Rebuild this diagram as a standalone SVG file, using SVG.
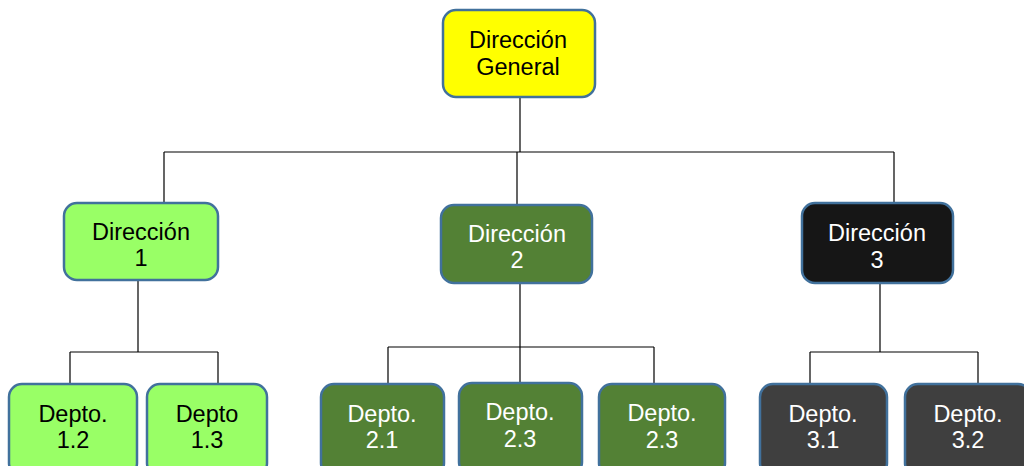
<svg xmlns="http://www.w3.org/2000/svg" width="1024" height="466" viewBox="0 0 1024 466">
  <style>
    .box { stroke: #41719C; stroke-width: 2.5; }
    .yellow { fill: #FFFF00; }
    .lime { fill: #99FF66; }
    .green { fill: #538135; }
    .black { fill: #161616; }
    .gray { fill: #3F3F3F; }
    .lbl { font-family: "Liberation Sans", Arial, sans-serif; font-size: 23.5px; text-anchor: middle; }
    .dark { fill: #000000; }
    .light { fill: #FFFFFF; }
    .wire { fill: none; stroke: #000000; stroke-width: 1.2; }
  </style>

  <g id="connectors">
    <!-- top level -->
    <path class="wire" d="M520 97 V152 M164 152 H894 M164 152 V203 M517 152 V205 M894 152 V203"/>
    <!-- branch 1 -->
    <path class="wire" d="M138 280 V352 M70 352 H218 M70 352 V384 M218 352 V384"/>
    <!-- branch 2 -->
    <path class="wire" d="M520 283 V347 M388 347 H654 M388 347 V384 M520 347 V383 M654 347 V384"/>
    <!-- branch 3 -->
    <path class="wire" d="M880 283 V352 M810 352 H978 M810 352 V384 M978 352 V384"/>
  </g>

  <g id="dir-general">
    <rect class="box yellow" x="443" y="10" width="152" height="87" rx="13"/>
    <text class="lbl dark" x="518" y="48">Dirección</text>
    <text class="lbl dark" x="518" y="75">General</text>
  </g>

  <g id="dir-1">
    <rect class="box lime" x="64" y="203" width="154" height="77" rx="13"/>
    <text class="lbl dark" x="141" y="240">Dirección</text>
    <text class="lbl dark" x="141" y="266">1</text>
  </g>

  <g id="dir-2">
    <rect class="box green" x="441" y="205" width="151" height="78" rx="13"/>
    <text class="lbl light" x="517" y="242">Dirección</text>
    <text class="lbl light" x="517" y="268">2</text>
  </g>

  <g id="dir-3">
    <rect class="box black" x="802" y="203" width="151" height="80" rx="13"/>
    <text class="lbl light" x="877" y="241">Dirección</text>
    <text class="lbl light" x="877" y="268">3</text>
  </g>

  <g id="depto-1-2">
    <rect class="box lime" x="9" y="384" width="128" height="92" rx="13"/>
    <text class="lbl dark" x="73" y="422">Depto.</text>
    <text class="lbl dark" x="73" y="448">1.2</text>
  </g>

  <g id="depto-1-3">
    <rect class="box lime" x="147" y="384" width="120" height="92" rx="13"/>
    <text class="lbl dark" x="207" y="422">Depto</text>
    <text class="lbl dark" x="207" y="448">1.3</text>
  </g>

  <g id="depto-2-1">
    <rect class="box green" x="321" y="384" width="123" height="92" rx="13"/>
    <text class="lbl light" x="382" y="422">Depto.</text>
    <text class="lbl light" x="382" y="448">2.1</text>
  </g>

  <g id="depto-2-3a">
    <rect class="box green" x="459" y="383" width="123" height="92" rx="13"/>
    <text class="lbl light" x="520" y="420">Depto.</text>
    <text class="lbl light" x="520" y="447">2.3</text>
  </g>

  <g id="depto-2-3b">
    <rect class="box green" x="599" y="384" width="126" height="92" rx="13"/>
    <text class="lbl light" x="662" y="421">Depto.</text>
    <text class="lbl light" x="662" y="448">2.3</text>
  </g>

  <g id="depto-3-1">
    <rect class="box gray" x="760" y="384" width="127" height="92" rx="13"/>
    <text class="lbl light" x="823" y="422">Depto.</text>
    <text class="lbl light" x="823" y="448">3.1</text>
  </g>

  <g id="depto-3-2">
    <rect class="box gray" x="905" y="384" width="126" height="92" rx="13"/>
    <text class="lbl light" x="968" y="422">Depto.</text>
    <text class="lbl light" x="968" y="448">3.2</text>
  </g>
</svg>
